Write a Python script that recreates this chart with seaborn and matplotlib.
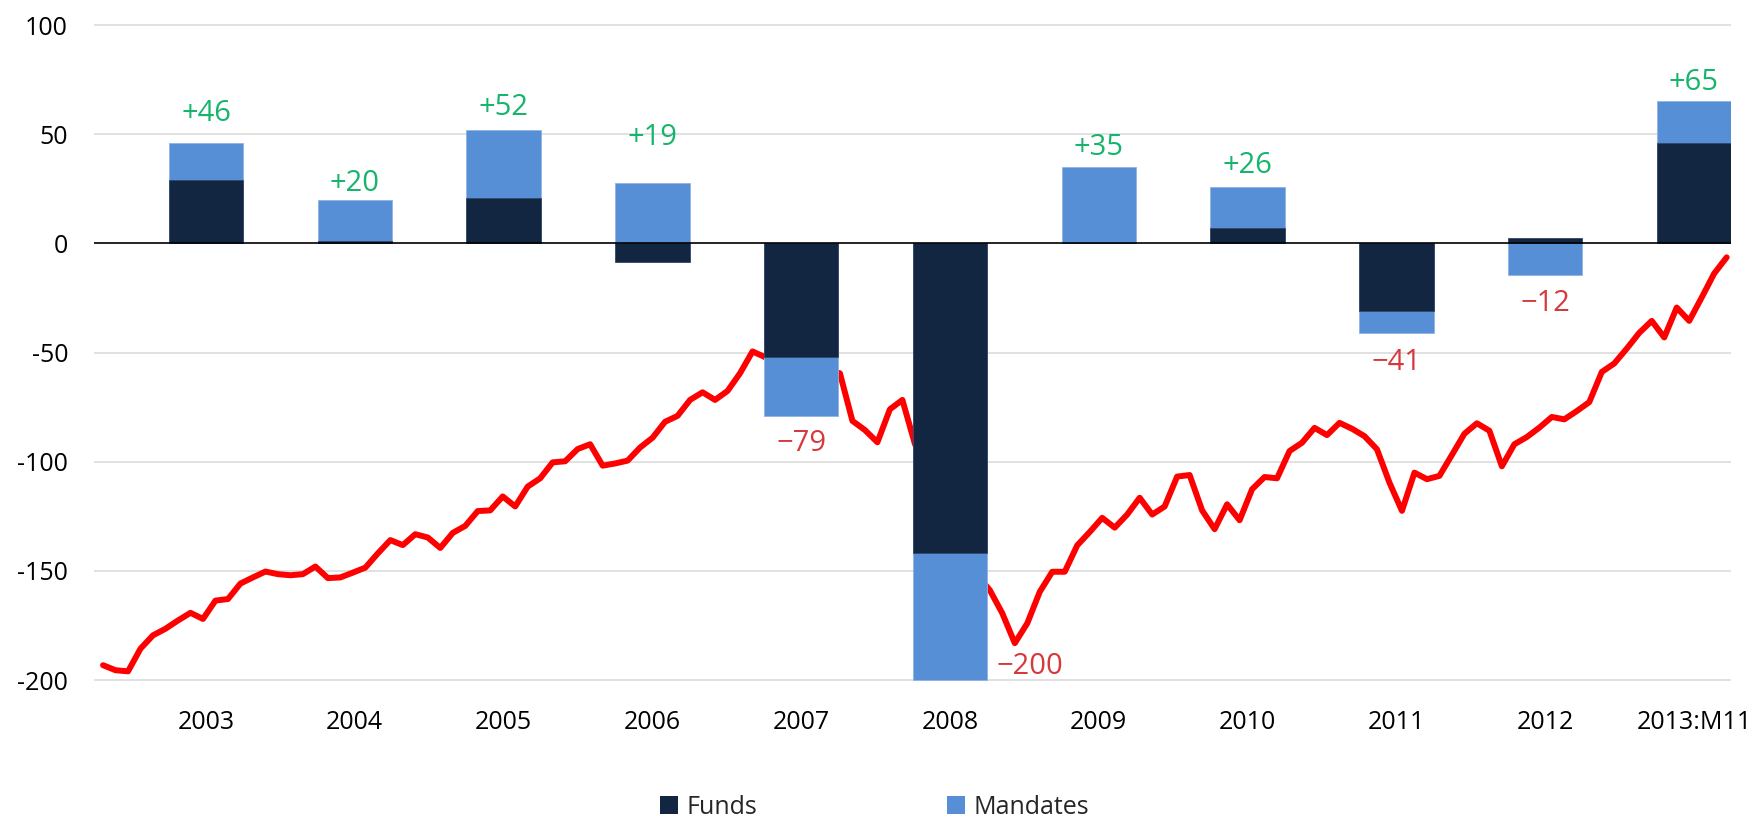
import numpy as np
import pandas as pd
import matplotlib
matplotlib.use("Agg")
import matplotlib.pyplot as plt
import seaborn as sns
from matplotlib.patches import Patch

# ---------------- data ----------------
years = ["2003", "2004", "2005", "2006", "2007", "2008", "2009", "2010",
         "2011", "2012", "2013:M11"]
funds = [29, 1, 21, -8.5, -52, -142, 0, 7, -31, 2.5, 46]
mandates = [17, 19, 31, 27.5, -27, -58, 35, 19, -10, -14.5, 19]
net_labels = ["+46", "+20", "+52", "+19", "\u221279", "\u2212200", "+35", "+26",
              "\u221241", "\u221212", "+65"]

line_months = pd.period_range("2003-01", "2013-11", freq="M")
line_values = [
    -193.2, -195.5, -196.0, -185.6, -179.5, -176.5, -172.7, -169.2, -172.0, -163.6,
    -162.9, -155.8, -153.0, -150.3, -151.5, -152.0, -151.5, -148.0, -153.3, -153.0,
    -150.8, -148.5, -142.0, -135.9, -138.2, -133.2, -134.7, -139.5, -132.6, -129.4,
    -122.6, -122.3, -115.9, -120.5, -111.4, -107.6, -100.3, -99.8, -94.2, -92.0,
    -101.8, -100.8, -99.5, -93.5, -89.0, -81.7, -79.0, -71.7, -68.2, -71.7,
    -67.6, -59.5, -49.5, -52.1, -54.0, -56.0, -53.0, -57.0, -58.0, -59.5,
    -81.3, -85.5, -91.1, -76.0, -71.7, -91.8, -105.0, -118.0, -130.0, -142.0,
    -152.0, -158.8, -169.4, -183.1, -174.0, -159.6, -150.4, -150.4, -138.3, -132.2,
    -125.7, -130.2, -124.2, -116.5, -124.2, -120.5, -106.8, -106.1, -122.3, -130.9,
    -119.5, -126.8, -112.6, -107.0, -107.6, -95.1, -91.3, -84.5, -87.8, -82.2,
    -84.9, -88.3, -94.3, -109.6, -122.5, -105.0, -108.0, -106.5, -96.9, -87.2,
    -82.4, -85.8, -102.1, -92.0, -88.7, -84.4, -79.5, -80.6, -76.8, -72.7,
    -58.9, -55.0, -48.2, -41.0, -35.5, -43.1, -29.4, -35.5, -24.8, -13.8,
    -6.4,
]

yticks = [100, 50, 0, -50, -100, -150, -200]

# ---------------- style / layout ----------------
NAVY = "#132641"
BLUE = "#568fd5"
RED_LINE = "#ff0000"
GREEN_TXT = "#17b46b"
RED_TXT = "#d6393b"
GRID = "#dcdcdc"

BAR_WIDTH = 0.5
LINE_X0 = -0.692          # position of first month on the category axis
MONTH_STEP = 0.08394      # width of one month on the category axis
LABEL_DY = [13.5, 7.5, 10, 21, -12.5, 6, 9, 9.5, -13.5, -13, 8.5]
LABEL_DX = [0, 0, 0, 0, 0, 0.06, 0, 0, 0, 0, 0]
LABEL_HA = ["center"] * 5 + ["left"] + ["center"] * 5

sns.set_theme(style="white")
plt.rcParams["font.family"] = ["Open Sans", "DejaVu Sans"]
plt.rcParams["axes.unicode_minus"] = True

fig = plt.figure(figsize=(17.65, 8.23), dpi=100)
ax = fig.add_axes([0.0535, 0.1697, 0.9273, 0.8039])

pos = np.arange(len(years))
f = np.array(funds, dtype=float)
m = np.array(mandates, dtype=float)
same_sign = np.sign(f) * np.sign(m) >= 0
mand_extent = np.where(same_sign, f + m, m)

# red line (behind the bars)
line_x = LINE_X0 + np.arange(len(line_months)) * MONTH_STEP
sns.lineplot(x=line_x, y=line_values, ax=ax, color=RED_LINE, linewidth=4.3,
             zorder=2, legend=False)

# stacked bars: mandates extent first, funds drawn over it
sns.barplot(x=pos, y=mand_extent, native_scale=True, width=BAR_WIDTH,
            color=BLUE, saturation=1, errorbar=None, ax=ax, zorder=3,
            edgecolor="#8fb3e4", linewidth=0.6)
sns.barplot(x=pos, y=f, native_scale=True, width=BAR_WIDTH,
            color=NAVY, saturation=1, errorbar=None, ax=ax, zorder=3,
            edgecolor="#33476a", linewidth=0.6)

# grid and zero line
for yv in yticks:
    if yv != 0:
        ax.axhline(yv, color=GRID, lw=1.2, zorder=0)
ax.axhline(0, color="black", lw=1.2, zorder=4)

# net labels
pos_top = np.maximum(f, 0) + np.maximum(m, 0)
neg_bot = np.minimum(f, 0) + np.minimum(m, 0)
for i, lab in enumerate(net_labels):
    total = f[i] + m[i]
    base = pos_top[i] if total >= 0 else neg_bot[i]
    xx = pos[i] + (BAR_WIDTH / 2 + LABEL_DX[i] if LABEL_HA[i] == "left" else 0)
    ax.text(xx, base + LABEL_DY[i], lab, ha=LABEL_HA[i], va="center",
            fontsize=21, color=GREEN_TXT if total >= 0 else RED_TXT, zorder=5)

ax.set_xlim(-0.75, 10.25)
ax.set_ylim(-201.5, 101.5)
ax.set_xticks(pos)
ax.set_xticklabels(years)
ax.set_yticks(yticks)
ax.set_yticklabels([str(v) for v in yticks])
ax.tick_params(axis="both", length=0, labelsize=18, colors="black")
ax.tick_params(axis="x", pad=19)
ax.tick_params(axis="y", pad=19)
ax.set_xlabel("")
ax.set_ylabel("")
for s in ax.spines.values():
    s.set_visible(False)
ax.grid(False)

handles = [Patch(facecolor=NAVY, edgecolor="none", label="Funds"),
           Patch(facecolor=BLUE, edgecolor="none", label="Mandates")]
fig.legend(handles=handles, loc="center", bbox_to_anchor=(0.4955, 0.0194),
           ncol=2, frameon=False, fontsize=18, handlelength=0.7,
           handleheight=0.7, handletextpad=0.35, columnspacing=7.6)

fig.savefig("out.png", dpi=100)
